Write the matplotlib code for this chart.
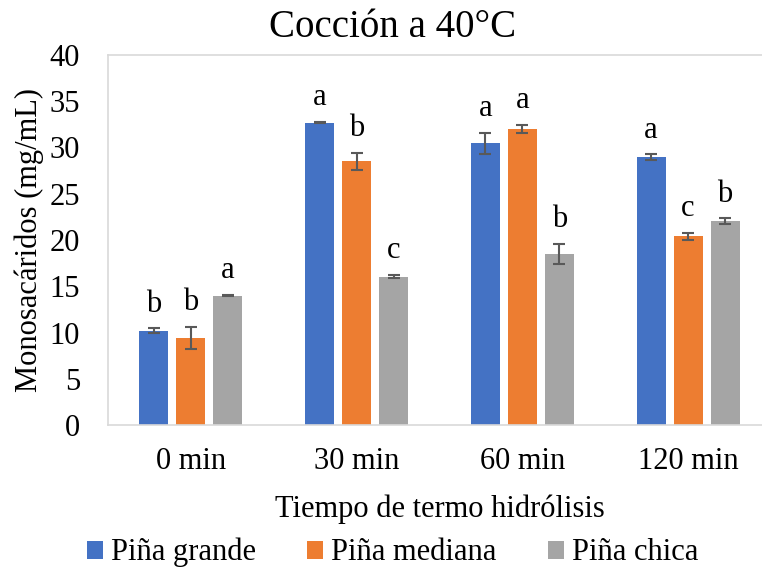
import numpy as np
import matplotlib
matplotlib.use('agg')
import matplotlib.pyplot as plt

plt.rcParams['font.family'] = ['Liberation Serif', 'DejaVu Serif']

# data
tiempos = ['0 min', '30 min', '60 min', '120 min']
series = ['Piña grande', 'Piña mediana', 'Piña chica']
grande = [10.2, 32.7, 30.45, 28.95]
mediana = [9.4, 28.5, 32.0, 20.4]
chica = [14.0, 16.05, 18.5, 22.05]
err_grande = [0.25, 0.1, 1.1, 0.3]
err_mediana = [1.2, 0.95, 0.45, 0.35]
err_chica = [0.1, 0.2, 1.1, 0.3]
letras_grande = ['b', 'a', 'a', 'a']
letras_mediana = ['b', 'b', 'a', 'c']
letras_chica = ['a', 'c', 'b', 'b']

colores = ['#4472C4', '#ED7D31', '#A5A5A5']
gris = '#D9D9D9'
fs = 22

fig = plt.figure(figsize=(7.62, 5.71), dpi=100)
# plot area runs slightly past the right edge, like the original
ax = fig.add_axes([108 / 762, 1 - 425 / 571, 663 / 762, 370 / 571])

x = np.arange(len(tiempos))
ancho = 0.175
paso = 0.223
valores = [grande, mediana, chica]
errores = [err_grande, err_mediana, err_chica]
letras = [letras_grande, letras_mediana, letras_chica]

for i in range(3):
    pos = x + (i - 1) * paso
    ax.bar(pos, valores[i], ancho, color=colores[i], label=series[i],
           yerr=errores[i], capsize=4.3,
           error_kw=dict(ecolor='#595959', elinewidth=1.5, capthick=1.5))
    for p, v, e, l in zip(pos, valores[i], errores[i], letras[i]):
        ax.annotate(l, (p, v + e), xytext=(0, 12), textcoords='offset points',
                    ha='center', va='baseline', fontsize=fs)

ax.set_xlim(-0.5, 3.5)
ax.set_ylim(0, 40)
ax.set_yticks(range(0, 41, 5))
ax.set_xticks(x)
ax.set_xticklabels(tiempos)
ax.tick_params(length=0, labelsize=fs)
ax.tick_params(axis='x', pad=16)
ax.tick_params(axis='y', pad=20)
for s in ax.spines.values():
    s.set_color(gris)
    s.set_linewidth(1.2)

ax.set_ylabel('Monosacáridos (mg/mL)', fontsize=fs, labelpad=4)
ax.set_xlabel('Tiempo de termo hidrólisis', fontsize=fs, labelpad=13)
fig.text(0.515, 1 - 37 / 571, 'Cocción a 40°C', fontsize=28,
         ha='center', va='baseline')

fig.legend(loc='lower center', bbox_to_anchor=(0.515, -0.042), ncol=3,
           frameon=False, fontsize=fs, handlelength=0.52, handleheight=0.52,
           handletextpad=0.26, columnspacing=1.68)

fig.savefig('out.png', dpi=100)
